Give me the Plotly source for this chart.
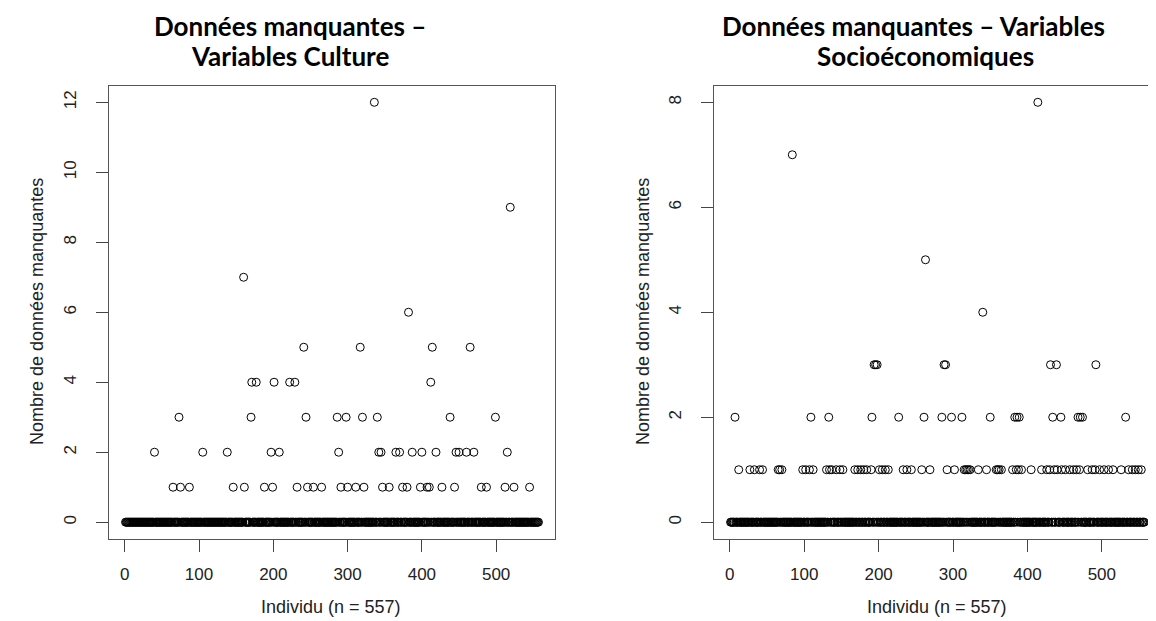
import plotly.graph_objects as go

N_INDIVIDUS = 557

# Culture: individuals (index) by number of missing values (all others = 0)
culture_y12 = [336]
culture_y9 = [519]
culture_y7 = [160]
culture_y6 = [382]
culture_y5 = [241, 317, 414, 465]
culture_y4 = [171, 177, 201, 222, 229, 412]
culture_y3 = [73, 170, 244, 286, 298, 320, 340, 438, 499]
culture_y2 = [40, 105, 138, 197, 208, 288, 342, 345, 365, 370, 387, 400, 419,
              446, 450, 460, 470, 515]
culture_y1 = [65, 75, 87, 146, 161, 188, 199, 232, 246, 254, 265, 291, 300, 311,
              322, 347, 356, 374, 380, 398, 407, 410, 427, 444, 480, 487, 512,
              524, 545]

# Socio-economic
socio_y8 = [414]
socio_y7 = [84]
socio_y5 = [263]
socio_y4 = [340]
socio_y3 = [194, 196, 198, 288, 290, 431, 439, 492]
socio_y2 = [7, 109, 133, 191, 227, 261, 285, 298, 312, 350, 383, 386, 389, 434,
            445, 468, 471, 474, 532]
socio_y1 = [12, 27, 33, 40, 44, 65, 67, 70, 98, 102, 107, 112, 130, 134, 137,
            143, 148, 152, 168, 172, 176, 180, 184, 190, 201, 205, 209, 213, 233,
            238, 244, 258, 269, 292, 302, 315, 317, 319, 321, 323, 334, 345, 358,
            360, 362, 365, 380, 385, 388, 392, 405, 419, 426, 430, 436, 440, 446,
            451, 457, 462, 466, 470, 481, 487, 491, 497, 503, 509, 515, 526, 536,
            541, 545, 549, 553]

x_ticks = [0, 100, 200, 300, 400, 500]
culture_y_ticks = [0, 2, 4, 6, 8, 10, 12]
socio_y_ticks = [0, 2, 4, 6, 8]

titre_culture = ["Données manquantes –", "Variables Culture"]
titre_socio = ["Données manquantes – Variables", "Socioéconomiques"]
x_label = "Individu (n = 557)"
y_label = "Nombre de données manquantes"


def build(levels):
    vals = [0] * N_INDIVIDUS
    for v, idxs in levels:
        for i in idxs:
            vals[i - 1] = v
    return vals


individus = list(range(1, N_INDIVIDUS + 1))
culture = build([(12, culture_y12), (9, culture_y9), (7, culture_y7), (6, culture_y6),
                 (5, culture_y5), (4, culture_y4), (3, culture_y3), (2, culture_y2),
                 (1, culture_y1)])
socio = build([(8, socio_y8), (7, socio_y7), (5, socio_y5), (4, socio_y4),
               (3, socio_y3), (2, socio_y2), (1, socio_y1)])

# the page body has an 8px margin: figure occupies page pixels 8..1156 / 8..621
OFF = 8
W, H = 1156 - OFF, 621 - OFF


def px(x):
    return (x - OFF) / W


def py(y):
    return 1 - (y - OFF) / H


marker = dict(symbol="circle-open", size=8, color="black", line=dict(width=1, color="black"))

fig = go.Figure()
fig.add_trace(go.Scatter(x=individus, y=culture, mode="markers", marker=marker,
                         xaxis="x", yaxis="y", showlegend=False))
fig.add_trace(go.Scatter(x=individus, y=socio, mode="markers", marker=marker,
                         xaxis="x2", yaxis="y2", showlegend=False))

tickfont = dict(family="Liberation Sans, Arial", size=17, color="#222")
common_axis = dict(showgrid=False, zeroline=False, showline=True, linecolor="#555",
                   linewidth=1, ticks="outside", ticklen=12, tickcolor="#444",
                   tickwidth=1, tickfont=tickfont)

ydom = [py(539), py(85.5)]
fig.update_layout(
    width=W, height=H, margin=dict(l=0, r=0, t=0, b=0),
    paper_bgcolor="white", plot_bgcolor="white",
    xaxis=dict(domain=[px(109), px(555)], range=[-21.24, 579.24], tickvals=x_ticks,
               mirror=True, anchor="y", ticklabelstandoff=8, **common_axis),
    yaxis=dict(domain=ydom, range=[-0.48, 12.48], tickvals=culture_y_ticks,
               tickangle=-90, mirror=True, anchor="x", ticklabelstandoff=13, **common_axis),
    xaxis2=dict(domain=[px(714), 1.0], range=[-21.24, 572.8], tickvals=x_ticks,
                mirror=True, anchor="y2", ticklabelstandoff=8, **common_axis),
    yaxis2=dict(domain=ydom, range=[-0.32, 8.32], tickvals=socio_y_ticks,
                tickangle=-90, mirror=False, anchor="x2", ticklabelstandoff=13, **common_axis),
)

title_font = dict(family="Lato, Open Sans, sans-serif", size=26, color="black")
label_font = dict(family="Liberation Sans, Arial", size=18, color="#222")
ann = []
for centers, lines in (((290, 290), titre_culture), ((913, 925), titre_socio)):
    for k, line in enumerate(lines):
        ann.append(dict(text="<b>%s</b>" % line, x=px(centers[k]), y=py(26 + 30 * k),
                        xref="paper", yref="paper", showarrow=False, font=title_font,
                        xanchor="center", yanchor="middle", borderpad=0))
for cx in (331, 937):
    ann.append(dict(text=x_label, x=px(cx), y=py(607), xref="paper", yref="paper",
                    showarrow=False, font=label_font, xanchor="center", yanchor="middle"))
for cx in (37, 643):
    ann.append(dict(text=y_label, x=px(cx), y=py(312), xref="paper", yref="paper",
                    showarrow=False, font=label_font, textangle=-90,
                    xanchor="center", yanchor="middle"))
fig.update_layout(annotations=ann)

fig.write_html("out.html")
